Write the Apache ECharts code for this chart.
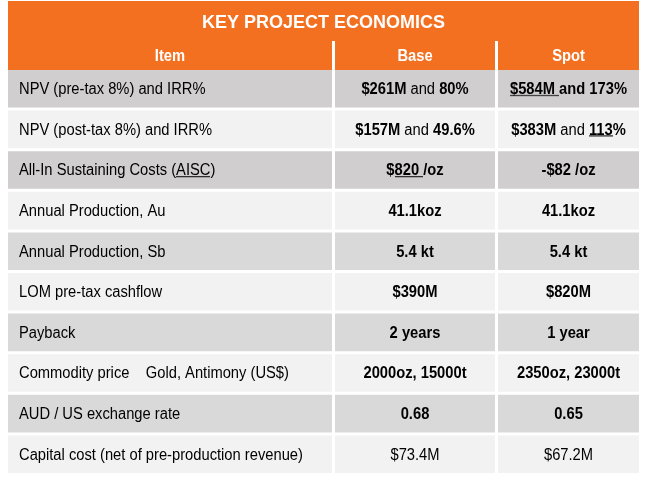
<!DOCTYPE html>
<html><head><meta charset="utf-8">
<script src="https://cdn.jsdelivr.net/npm/echarts@6/dist/echarts.min.js"></script>
<style>html,body{margin:0;padding:0;background:#fff}#c{width:651px;height:497px}</style>
</head><body><div id="c"></div>
<script>
// ---- data ----
const titleText = 'KEY PROJECT ECONOMICS';
const columns = ['Item', 'Base', 'Spot'];
const items = [
  'NPV (pre-tax 8%) and IRR%',
  'NPV (post-tax 8%) and IRR%',
  'All-In Sustaining Costs (AISC)',
  'Annual Production, Au',
  'Annual Production, Sb',
  'LOM pre-tax cashflow',
  'Payback',
  'Commodity price    Gold, Antimony (US$)',
  'AUD / US exchange rate',
  'Capital cost (net of pre-production revenue)'
];
const baseValues = ['$261M and 80%', '$157M and 49.6%', '$820 /oz', '41.1koz', '5.4 kt', '$390M', '2 years', '2000oz, 15000t', '0.68', '$73.4M'];
const spotValues = ['$584M and 173%', '$383M and 113%', '-$82 /oz', '41.1koz', '5.4 kt', '$820M', '1 year', '2350oz, 23000t', '0.65', '$67.2M'];

// ---- text emphasis rules ----
const underlines = [
  { row: 2, col: 0, text: 'AISC' },
  { row: 0, col: 2, text: '$584M ' },
  { row: 1, col: 2, text: '113' },
  { row: 2, col: 1, text: '820 ' }
];
const boldConnectorCells = [{ row: 0, col: 2 }];
const plainValueRows = [9];

// ---- layout & style ----
const FONT = '"Liberation Sans", Arial, Helvetica, sans-serif';
const TEXT = '#161616';
const ORANGE = '#F37021';
const rowFills = ['#D0CECE', '#F2F2F2', '#D0CECE', '#F2F2F2', '#D9D9D9', '#F2F2F2', '#D9D9D9', '#F2F2F2', '#D9D9D9', '#F2F2F2'];
const tableWidth = 631;
const colEdges = [[0, 324], [327, 487], [490, 631]];
const rowGap = 3;
const headerRowHeight = 29;
const titleBandHeight = 40;
const cellPadLeft = 11;
const textScaleX = 0.92;

function makeUnderline() {
  const cv = document.createElement('canvas');
  cv.width = 4; cv.height = 21;
  const ctx = cv.getContext('2d');
  ctx.fillStyle = 'rgba(30,30,30,1)';
  ctx.fillRect(0, 17, 4, 1);
  ctx.fillStyle = 'rgba(30,30,30,0.5)';
  ctx.fillRect(0, 18, 4, 1);
  return cv;
}
const ul = makeUnderline();
const baseFont = { fontFamily: FONT, fontSize: 16, color: TEXT, lineHeight: 21 };
const richStyles = {
  n: Object.assign({}, baseFont),
  nu: Object.assign({}, baseFont, { backgroundColor: { image: ul } }),
  b: Object.assign({}, baseFont, { fontWeight: 'bold' }),
  bu: Object.assign({}, baseFont, { fontWeight: 'bold', backgroundColor: { image: ul } })
};

function toRich(text, r, c) {
  const base = (c === 0 || plainValueRows.indexOf(r) >= 0) ? 'n' : 'b';
  let segs = [{ t: text, s: base }];
  underlines.filter(u => u.row === r && u.col === c).forEach(u => {
    segs = segs.flatMap(sg => {
      const k = sg.t.indexOf(u.text);
      if (k < 0) return [sg];
      return [
        { t: sg.t.slice(0, k), s: sg.s },
        { t: u.text, s: sg.s + 'u' },
        { t: sg.t.slice(k + u.text.length), s: sg.s }
      ];
    });
  });
  const boldConn = boldConnectorCells.some(b => b.row === r && b.col === c);
  if (base === 'b' && !boldConn) {
    segs = segs.flatMap(sg => sg.s !== 'b' ? [sg] :
      sg.t.split(/( and )/).map(t => ({ t: t, s: t === ' and ' ? 'n' : 'b' })));
  }
  return segs.filter(sg => sg.t.length).map(sg => '{' + sg.s + '|' + sg.t + '}').join('');
}

function cellText(r, c) {
  return c === 0 ? items[r] : (c === 1 ? baseValues[r] : spotValues[r]);
}

function renderBody(params, api) {
  const c = api.value(0), r = api.value(1);
  const e = colEdges[c];
  const p0 = api.coord([e[0], r]);
  const p1 = api.coord([e[1], r]);
  const bandH = api.size([0, 1])[1];
  const top = p0[1] - bandH / 2;
  const h = bandH - rowGap;
  return {
    type: 'group',
    children: [
      { type: 'rect', shape: { x: p0[0], y: top, width: p1[0] - p0[0], height: h }, style: { fill: rowFills[r] } },
      {
        type: 'text',
        x: c === 0 ? p0[0] + cellPadLeft : (p0[0] + p1[0]) / 2,
        y: top + h / 2 + 1,
        scaleX: textScaleX,
        style: {
          text: toRich(cellText(r, c), r, c),
          rich: richStyles,
          x: 0, y: 0,
          align: c === 0 ? 'left' : 'center',
          verticalAlign: 'middle'
        }
      }
    ]
  };
}

function renderHeader(params, api) {
  const c = api.value(0);
  const e = colEdges[c];
  const p0 = api.coord([e[0], 0]);
  const p1 = api.coord([e[1], 0]);
  const bandH = api.size([0, 1])[1];
  const bodyTop = p0[1] - bandH / 2;
  const hTop = bodyTop - headerRowHeight;
  const children = [
    { type: 'rect', shape: { x: p0[0], y: hTop, width: p1[0] - p0[0], height: headerRowHeight }, style: { fill: ORANGE } },
    {
      type: 'text',
      x: (p0[0] + p1[0]) / 2, y: hTop + headerRowHeight / 2 + 1,
      scaleX: textScaleX,
      style: {
        text: columns[c], x: 0, y: 0,
        align: 'center', verticalAlign: 'middle',
        fill: '#ffffff', font: 'bold 16px ' + FONT
      }
    }
  ];
  if (c === 0) {
    const a = api.coord([0, 0])[0], b = api.coord([tableWidth, 0])[0];
    children.unshift({ type: 'rect', shape: { x: a, y: hTop - titleBandHeight, width: b - a, height: titleBandHeight }, style: { fill: ORANGE } });
    children.push({
      type: 'text',
      style: {
        text: titleText, x: (a + b) / 2, y: hTop - titleBandHeight / 2 + 2,
        align: 'center', verticalAlign: 'middle',
        fill: '#ffffff', font: 'bold 18px ' + FONT
      }
    });
  }
  return { type: 'group', children: children };
}

const bodyData = [];
items.forEach((it, r) => { columns.forEach((col, c) => bodyData.push([c, r])); });

const chart = echarts.init(document.getElementById('c'), null, { renderer: 'canvas' });
chart.setOption({
  animation: false,
  backgroundColor: '#ffffff',
  grid: { left: 8, top: 70, width: tableWidth, height: 406, containLabel: false },
  xAxis: { type: 'value', min: 0, max: tableWidth, show: false },
  yAxis: { type: 'category', data: items, inverse: true, show: false },
  series: [
    { type: 'custom', name: 'cells', renderItem: renderBody, data: bodyData, clip: false, encode: { x: 0, y: 1 } },
    { type: 'custom', name: 'header', renderItem: renderHeader, data: columns.map((n, i) => [i, 0]), clip: false, encode: { x: 0, y: 1 } }
  ]
});
</script>
</body></html>
